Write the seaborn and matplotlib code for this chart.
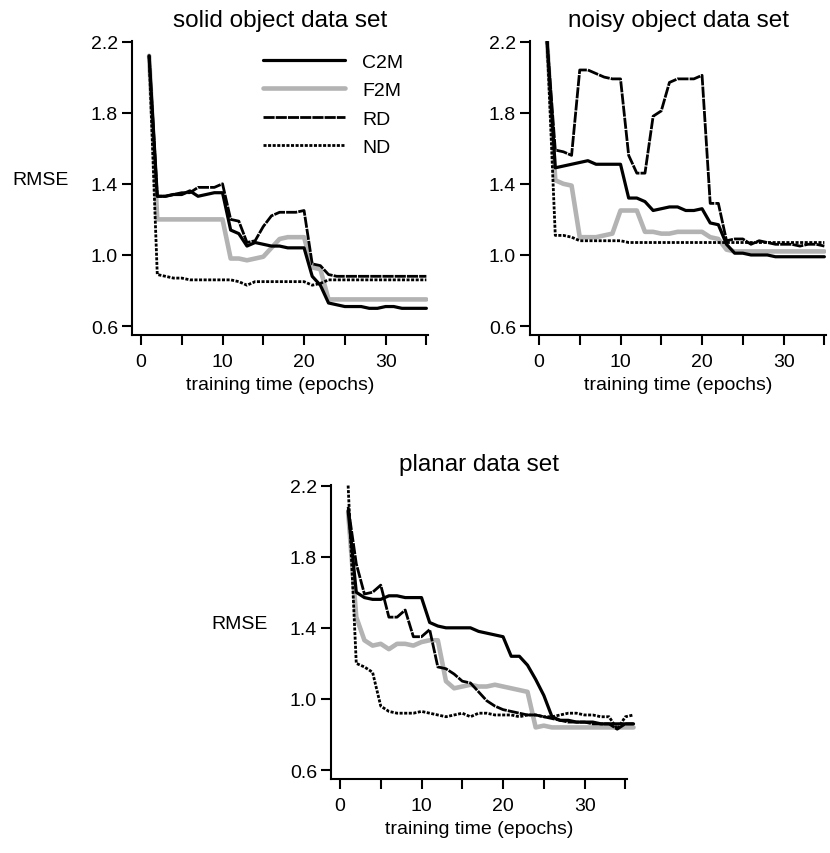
import matplotlib
matplotlib.use("Agg")
import matplotlib.pyplot as plt
import seaborn as sns

# epochs shown on the x axis
epochs = list(range(1, 36))
epochs_planar = list(range(1, 37))

# solid object data set
solid_c2m = [2.12, 1.33, 1.33, 1.34, 1.34, 1.36, 1.33, 1.34, 1.35, 1.35,
             1.14, 1.12, 1.05, 1.07, 1.06, 1.05, 1.05, 1.04, 1.04, 1.04,
             0.88, 0.83, 0.73, 0.72, 0.71, 0.71, 0.71, 0.70, 0.70, 0.71,
             0.71, 0.70, 0.70, 0.70, 0.70]
solid_f2m = [2.12, 1.20, 1.20, 1.20, 1.20, 1.20, 1.20, 1.20, 1.20, 1.20,
             0.98, 0.98, 0.97, 0.98, 0.99, 1.04, 1.09, 1.10, 1.10, 1.10,
             0.93, 0.92, 0.75, 0.75, 0.75, 0.75, 0.75, 0.75, 0.75, 0.75,
             0.75, 0.75, 0.75, 0.75, 0.75]
solid_rd = [2.12, 1.33, 1.33, 1.34, 1.35, 1.35, 1.38, 1.38, 1.38, 1.40,
            1.20, 1.19, 1.07, 1.08, 1.16, 1.22, 1.24, 1.24, 1.24, 1.25,
            0.95, 0.94, 0.89, 0.88, 0.88, 0.88, 0.88, 0.88, 0.88, 0.88,
            0.88, 0.88, 0.88, 0.88, 0.88]
solid_nd = [2.12, 0.89, 0.88, 0.87, 0.87, 0.86, 0.86, 0.86, 0.86, 0.86,
            0.86, 0.85, 0.83, 0.85, 0.85, 0.85, 0.85, 0.85, 0.85, 0.85,
            0.83, 0.84, 0.86, 0.86, 0.86, 0.86, 0.86, 0.86, 0.86, 0.86,
            0.86, 0.86, 0.86, 0.86, 0.86]

# noisy object data set
noisy_c2m = [2.20, 1.49, 1.50, 1.51, 1.52, 1.53, 1.51, 1.51, 1.51, 1.51,
             1.32, 1.32, 1.30, 1.25, 1.26, 1.27, 1.27, 1.25, 1.25, 1.26,
             1.18, 1.17, 1.06, 1.01, 1.01, 1.00, 1.00, 1.00, 0.99, 0.99,
             0.99, 0.99, 0.99, 0.99, 0.99]
noisy_f2m = [2.20, 1.42, 1.40, 1.39, 1.10, 1.10, 1.10, 1.11, 1.12, 1.25,
             1.25, 1.25, 1.13, 1.13, 1.12, 1.12, 1.13, 1.13, 1.13, 1.13,
             1.10, 1.09, 1.03, 1.02, 1.02, 1.02, 1.02, 1.02, 1.02, 1.02,
             1.02, 1.02, 1.02, 1.02, 1.02]
noisy_rd = [2.20, 1.59, 1.58, 1.56, 2.04, 2.04, 2.02, 2.00, 1.99, 1.99,
            1.56, 1.46, 1.46, 1.78, 1.81, 1.97, 1.99, 1.99, 1.99, 2.01,
            1.29, 1.29, 1.08, 1.09, 1.09, 1.06, 1.08, 1.07, 1.06, 1.06,
            1.06, 1.05, 1.06, 1.06, 1.05]
noisy_nd = [2.20, 1.11, 1.11, 1.10, 1.08, 1.08, 1.08, 1.08, 1.08, 1.08,
            1.07, 1.07, 1.07, 1.07, 1.07, 1.07, 1.07, 1.07, 1.07, 1.07,
            1.07, 1.07, 1.07, 1.07, 1.07, 1.07, 1.07, 1.07, 1.07, 1.07,
            1.07, 1.07, 1.07, 1.07, 1.07]

# planar data set
planar_c2m = [2.06, 1.60, 1.57, 1.56, 1.56, 1.58, 1.58, 1.57, 1.57, 1.57,
              1.43, 1.41, 1.40, 1.40, 1.40, 1.40, 1.38, 1.37, 1.36, 1.35,
              1.24, 1.24, 1.19, 1.11, 1.02, 0.90, 0.88, 0.88, 0.87, 0.87,
              0.87, 0.86, 0.86, 0.86, 0.86, 0.86]
planar_f2m = [2.05, 1.46, 1.33, 1.30, 1.31, 1.28, 1.31, 1.31, 1.30, 1.32,
              1.33, 1.33, 1.10, 1.06, 1.07, 1.08, 1.07, 1.07, 1.08, 1.07,
              1.06, 1.05, 1.04, 0.84, 0.85, 0.84, 0.84, 0.84, 0.84, 0.84,
              0.84, 0.84, 0.84, 0.84, 0.84, 0.84]
planar_rd = [2.08, 1.76, 1.59, 1.60, 1.64, 1.46, 1.46, 1.50, 1.35, 1.35,
             1.39, 1.18, 1.17, 1.14, 1.10, 1.09, 1.04, 0.99, 0.96, 0.94,
             0.93, 0.92, 0.91, 0.91, 0.90, 0.89, 0.88, 0.87, 0.87, 0.87,
             0.86, 0.86, 0.86, 0.83, 0.86, 0.86]
planar_nd = [2.20, 1.20, 1.18, 1.15, 0.96, 0.93, 0.92, 0.92, 0.92, 0.93,
             0.92, 0.91, 0.90, 0.91, 0.92, 0.90, 0.92, 0.92, 0.91, 0.91,
             0.91, 0.90, 0.91, 0.91, 0.90, 0.90, 0.91, 0.92, 0.92, 0.91,
             0.91, 0.90, 0.90, 0.83, 0.90, 0.91]

methods = ["C2M", "F2M", "RD", "ND"]
draw_order = ["F2M", "C2M", "RD", "ND"]

styles = {
    "C2M": dict(color="black", lw=2.3, ls="-"),
    "F2M": dict(color="#b3b3b3", lw=3.3, ls="-"),
    "RD": dict(color="black", lw=2.0, ls=(0, (4, 0.4))),
    "ND": dict(color="black", lw=2.0, ls=(0, (1.1, 0.55))),
}

sns.set_style("ticks")
plt.rcParams["font.family"] = ["Liberation Sans", "DejaVu Sans"]
plt.rcParams["text.color"] = "black"
plt.rcParams["axes.labelcolor"] = "black"

W, H = 830, 854
fig = plt.figure(figsize=(W / 100, H / 100), dpi=100)


def make_axes(left, bottom):
    return fig.add_axes([left / W, (H - bottom) / H, 296 / W, 294 / H])


panels = [
    (make_axes(132, 336), "solid object data set", epochs,
     {"C2M": solid_c2m, "F2M": solid_f2m, "RD": solid_rd, "ND": solid_nd}, True, False),
    (make_axes(530, 336), "noisy object data set", epochs,
     {"C2M": noisy_c2m, "F2M": noisy_f2m, "RD": noisy_rd, "ND": noisy_nd}, False, False),
    (make_axes(331, 780), "planar data set", epochs_planar,
     {"C2M": planar_c2m, "F2M": planar_f2m, "RD": planar_rd, "ND": planar_nd}, True, True),
]

for i, (ax, title, x, series, show_ylabel, unclip) in enumerate(panels):
    for m in draw_order:
        st = styles[m]
        sns.lineplot(x=x, y=series[m], ax=ax, color=st["color"], lw=st["lw"],
                     linestyle=st["ls"], label=m, clip_on=not unclip)
    ax.set_xlim(-1.1, 35.2)
    ax.set_ylim(0.55, 2.203)
    ax.set_xticks(range(0, 36, 5))
    ax.set_xticklabels(["0", "", "10", "", "20", "", "30", ""])
    ax.set_yticks([0.6, 1.0, 1.4, 1.8, 2.2])
    ax.set_yticklabels(["0.6", "1.0", "1.4", "1.8", "2.2"])
    ax.tick_params(axis="both", direction="out", length=7, width=1.5,
                   labelsize=14, color="black", labelcolor="black")
    ax.tick_params(axis="x", pad=6)
    ax.tick_params(axis="y", pad=3)
    sns.despine(ax=ax)
    for sp in ["left", "bottom"]:
        ax.spines[sp].set_linewidth(1.5)
        ax.spines[sp].set_color("black")
    ax.set_title(title, fontsize=17.5, pad=11, color="black")
    ax.set_xlabel("training time (epochs)", fontsize=14)
    if show_ylabel:
        ax.set_ylabel("RMSE", fontsize=14, rotation=0, ha="right", va="center")
        ax.yaxis.set_label_coords(-0.215, 0.53)
    else:
        ax.set_ylabel("")
    if i == 0:
        handles, labels = ax.get_legend_handles_labels()
        lookup = dict(zip(labels, handles))
        ax.legend([lookup[m] for m in methods], methods, loc="upper left",
                  bbox_to_anchor=(0.443, 0.958), frameon=False, fontsize=14,
                  handlelength=4.2, handletextpad=0.9, labelspacing=0.55,
                  borderpad=0, borderaxespad=0)
    else:
        ax.get_legend().remove()

fig.savefig("out.png", dpi=100)
